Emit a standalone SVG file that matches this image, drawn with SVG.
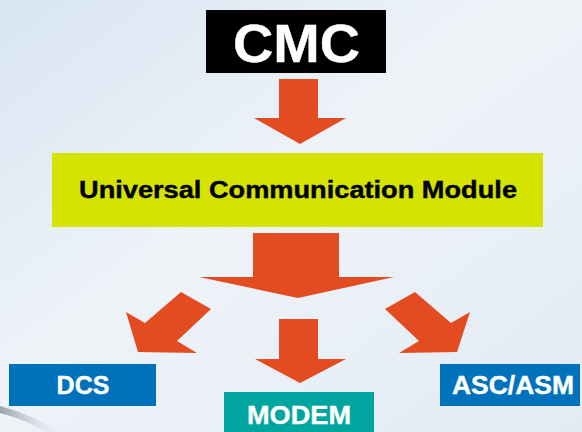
<svg xmlns="http://www.w3.org/2000/svg" width="582" height="432" viewBox="0 0 582 432">
  <defs>
    <linearGradient id="bg" x1="0" y1="0" x2="1" y2="1">
      <stop offset="0" stop-color="#d8e5f2"/>
      <stop offset="0.45" stop-color="#eef3f8"/>
      <stop offset="1" stop-color="#e2ebf3"/>
    </linearGradient>
    <linearGradient id="swoosh" x1="0" y1="0" x2="1" y2="0">
      <stop offset="0" stop-color="#8a939c"/>
      <stop offset="1" stop-color="#c9d2da" stop-opacity="0"/>
    </linearGradient>
    <style>
      .arrow { fill: #e34b20; }
      .lbl { font-family: "Liberation Sans", Arial, sans-serif; font-weight: bold; text-anchor: middle; }
      .white { fill: #ffffff; stroke: #ffffff; stroke-width: 0.4; }
      .black { fill: #000000; stroke: #000000; stroke-width: 0.4; }
    </style>
  </defs>
  <rect x="0" y="0" width="582" height="432" fill="url(#bg)"/>
  <path d="M0,406 Q30,414 60,432 L46,432 Q24,419 0,413 Z" fill="url(#swoosh)" opacity="0.85"/>

  <g id="connectors">
    <polygon class="arrow" points="279,79 318,79 318,118 346,118 300,144 254,118 279,118"/>
    <polygon class="arrow" points="253,233 339,233 339,277 394,277 298,298 199,277 253,277"/>
    <polygon class="arrow" points="181,292 211,309 177,341 197,353 138,352 126,312 145,323"/>
    <polygon class="arrow" points="415,292 385,309 419,341 399,353 457,352 470,312 451,323"/>
    <polygon class="arrow" points="279,319 318,319 318,359 346,359 300,383 255,359 279,359"/>
  </g>

  <g id="cmc">
    <rect x="206" y="10" width="180" height="63" fill="#000000"/>
    <text class="lbl white" x="296.5" y="62" font-size="53" textLength="127" lengthAdjust="spacingAndGlyphs">CMC</text>
  </g>

  <g id="ucm">
    <rect x="52" y="153" width="491" height="74" fill="#d4e300"/>
    <text class="lbl black" x="298" y="198" font-size="24" textLength="438" lengthAdjust="spacingAndGlyphs">Universal Communication Module</text>
  </g>

  <g id="dcs">
    <rect x="9" y="364" width="147" height="42" fill="#0071bb"/>
    <text class="lbl white" x="83" y="394" font-size="25">DCS</text>
  </g>

  <g id="modem">
    <rect x="224" y="392" width="150" height="45" fill="#00a59f"/>
    <text class="lbl white" x="299" y="424" font-size="26" textLength="104" lengthAdjust="spacingAndGlyphs">MODEM</text>
  </g>

  <g id="ascasm">
    <rect x="440" y="364" width="140" height="42" fill="#0071bb"/>
    <text class="lbl white" x="513" y="394" font-size="25" textLength="122" lengthAdjust="spacingAndGlyphs">ASC/ASM</text>
  </g>
</svg>
